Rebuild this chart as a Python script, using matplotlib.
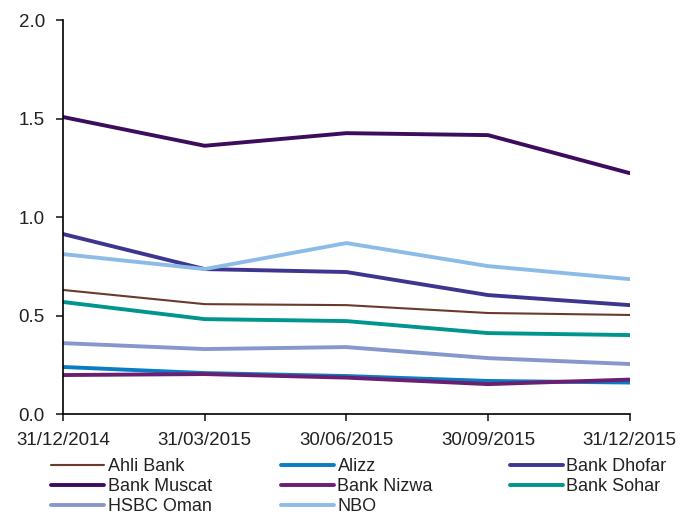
import matplotlib
matplotlib.use("Agg")
from matplotlib import pyplot as plt
from matplotlib.legend import Legend

dates = ["31/12/2014", "31/03/2015", "30/06/2015", "30/09/2015", "31/12/2015"]

ahli_bank = [0.63, 0.558, 0.553, 0.513, 0.503]
alizz = [0.239, 0.208, 0.193, 0.168, 0.160]
bank_dhofar = [0.914, 0.736, 0.721, 0.604, 0.553]
bank_muscat = [1.508, 1.362, 1.426, 1.416, 1.223]
bank_nizwa = [0.198, 0.203, 0.185, 0.152, 0.175]
bank_sohar = [0.569, 0.482, 0.472, 0.411, 0.401]
hsbc_oman = [0.36, 0.33, 0.34, 0.284, 0.254]
nbo = [0.812, 0.736, 0.868, 0.751, 0.685]

series = [
    ("Ahli Bank", ahli_bank, "#6b3a2e", 1.5),
    ("Alizz", alizz, "#0a7cc1", 2.8),
    ("Bank Dhofar", bank_dhofar, "#3e3590", 2.8),
    ("Bank Muscat", bank_muscat, "#3d0c5c", 2.8),
    ("Bank Nizwa", bank_nizwa, "#6b1f72", 2.8),
    ("Bank Sohar", bank_sohar, "#00958f", 2.8),
    ("HSBC Oman", hsbc_oman, "#8597cd", 2.8),
    ("NBO", nbo, "#8dbbe8", 2.8),
]

plt.rcParams['font.family'] = ['Liberation Sans', 'DejaVu Sans']

fig = plt.figure(figsize=(6.92, 5.15), dpi=100)
ax = fig.add_axes([0.091, 0.196, 0.819, 0.765])

x = list(range(len(dates)))
lines = []
for name, vals, color, lw in series:
    ln, = ax.plot(x, vals, color=color, lw=lw, label=name, solid_capstyle='round')
    lines.append(ln)

ax.set_xlim(0, len(dates) - 1)
ax.set_ylim(0, 2.0)
ax.set_yticks([0, 0.5, 1.0, 1.5, 2.0])
ax.set_yticklabels(["0.0", "0.5", "1.0", "1.5", "2.0"])
ax.set_xticks(x)
ax.set_xticklabels(dates)
ax.spines['top'].set_visible(False)
ax.spines['right'].set_visible(False)
ax.tick_params(labelsize=13.5, colors='#222222', length=5, width=1.2, pad=8)
ax.spines['left'].set_linewidth(1.2)
ax.spines['bottom'].set_linewidth(1.2)

# legend laid out row by row, one legend per column
col_x = [-0.021, 0.384, 0.788]
for c in range(3):
    hs = lines[c::3]
    leg = Legend(ax, hs, [h.get_label() for h in hs], loc='upper left',
                 bbox_to_anchor=(col_x[c], -0.112), frameon=False,
                 fontsize=13, handlelength=2.95, handletextpad=0.2,
                 labelspacing=0.16, borderpad=0, borderaxespad=0,
                 labelcolor='#222222')
    ax.add_artist(leg)

plt.savefig("out.png")
